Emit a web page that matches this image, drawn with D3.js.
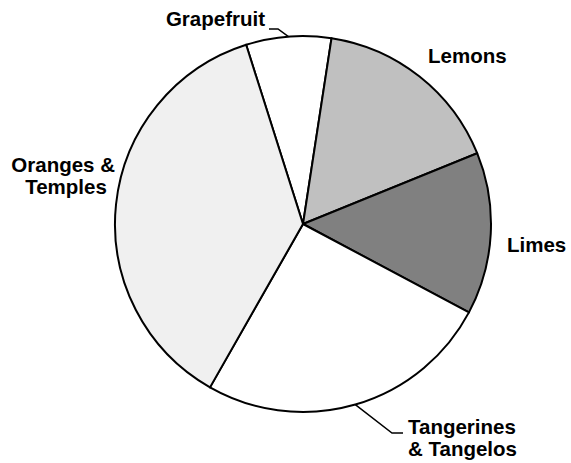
<!doctype html>
<html>
  <head>
    <script src="https://cdnjs.cloudflare.com/ajax/libs/d3/7.8.5/d3.min.js"></script>
    <style>
      body { margin: 0; background: #fff; }
      text { font-family: "Liberation Sans", Arial, sans-serif; font-weight: bold; font-size: 20.5px; fill: #000; }
    </style>
  </head>
  <body>
    <svg width="571" height="463"></svg>
    <script>
      // slice order clockwise, starting from the Grapefruit edge
      var fruits = ["Grapefruit", "Lemons", "Limes", "Tangerines & Tangelos", "Oranges & Temples"];
      var shares = [7.3, 16.4, 13.9, 25.4, 36.8];
      var labelLines = [["Grapefruit"], ["Lemons"], ["Limes"], ["Tangerines", "& Tangelos"], ["Oranges & ", "Temples"]];

      var fills = ["#ffffff", "#c0c0c0", "#808080", "#ffffff", "#f0f0f0"];
      // label anchor spots, leader elbows where the original has them
      var labelSpots = [
        {x: 265, y: 26, anchor: "end", elbow: [278, 29], end: [269, 29]},
        {x: 428, y: 63, anchor: "start"},
        {x: 507, y: 252, anchor: "start"},
        {x: 408, y: 434, anchor: "start", elbow: [392, 433], end: [403, 433]},
        {x: 66, y: 172, anchor: "middle"}
      ];

      var cx = 303, cy = 224, r = 188;
      var start = -17.6 * Math.PI / 180;

      var pie = d3.pie().sort(null).value(d => d)
        .startAngle(start).endAngle(start + 2 * Math.PI);
      var arc = d3.arc().innerRadius(0).outerRadius(r);
      var rim = d3.arc().innerRadius(r).outerRadius(r);

      var slices = pie(shares);
      var svg = d3.select("svg");
      var g = svg.append("g").attr("transform", "translate(" + cx + "," + cy + ")");

      g.selectAll("path").data(slices)
        .enter()
        .append("path")
          .attr("d", arc)
          .style("fill", (d, i) => fills[i])
          .style("stroke", "#000")
          .style("stroke-width", 2)
          .style("stroke-linejoin", "round");

      slices.forEach(function(s, i) {
        var spot = labelSpots[i];
        if (spot.elbow) {
          var p = rim.centroid(s);
          svg.append("polyline")
            .attr("points", [[p[0] + cx, p[1] + cy], spot.elbow, spot.end].map(q => q.join(",")).join(" "))
            .style("fill", "none")
            .style("stroke", "#000")
            .style("stroke-width", 1.5);
        }
        var t = svg.append("text")
          .attr("text-anchor", spot.anchor)
          .attr("xml:space", "preserve")
          .attr("y", spot.y);
        labelLines[i].forEach(function(line, j) {
          t.append("tspan")
            .attr("x", spot.x)
            .attr("dy", j ? 21.5 : 0)
            .text(line);
        });
      });
    </script>
  </body>
</html>
